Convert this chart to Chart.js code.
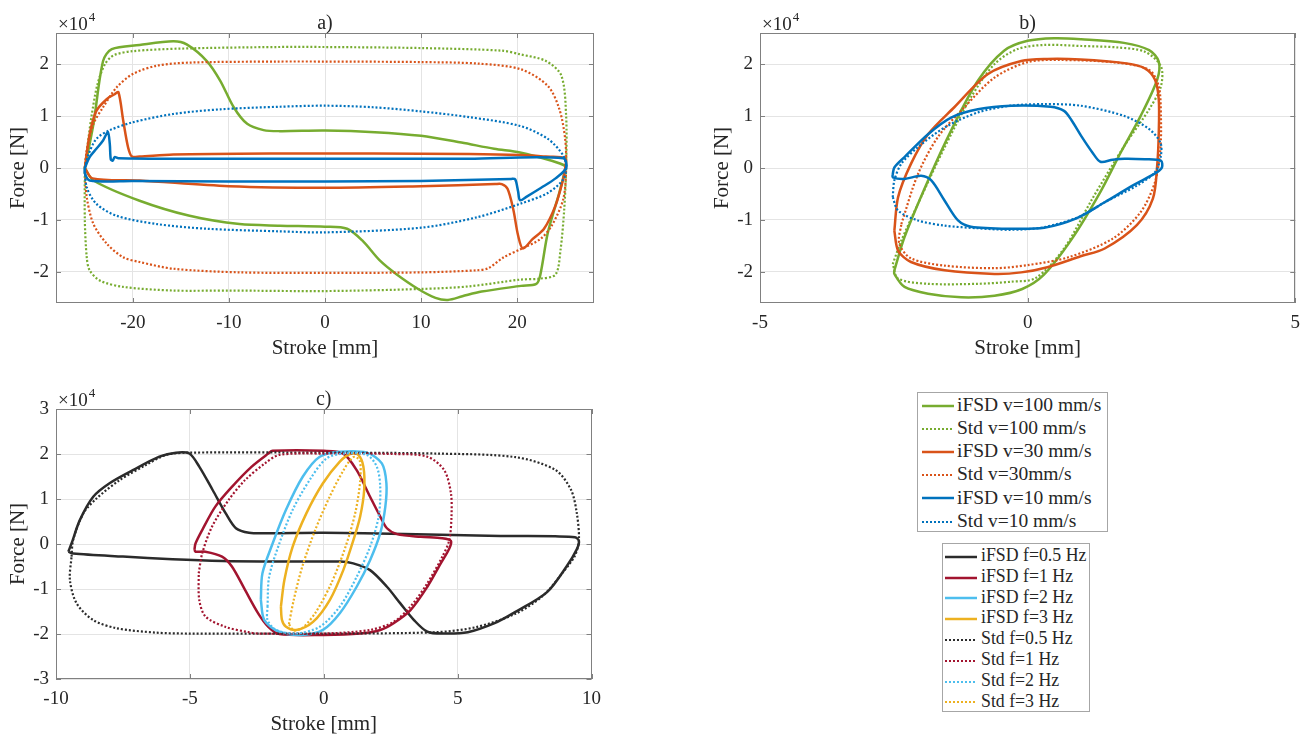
<!DOCTYPE html>
<html>
<head>
<meta charset="utf-8">
<script src="https://cdn.jsdelivr.net/npm/chart.js@4.4.1/dist/chart.umd.min.js"></script>
<style>
  body { margin: 0; background: #fff; }
  #page { position: relative; width: 1309px; height: 740px; overflow: hidden; font-family: "Liberation Serif", "Times New Roman", serif; color: #262626; }
  canvas { position: absolute; }
  .legend { position: absolute; background: #fff; border: 1px solid #a6a6a6; box-sizing: border-box; }
  .row { position: absolute; left: 0; right: 0; white-space: nowrap; }
  .row svg { position: absolute; }
  .row span { position: absolute; line-height: 1; }
</style>
</head>
<body>
<div id="page">
  <canvas id="chartA" width="610" height="365" style="left:0;top:0"></canvas>
  <canvas id="chartB" width="605" height="365" style="left:704px;top:0"></canvas>
  <canvas id="chartC" width="610" height="365" style="left:0;top:376px"></canvas>
  <div id="legendV" class="legend" style="left:917px;top:392px;width:191px;height:140px"></div>
  <div id="legendF" class="legend" style="left:942px;top:543px;width:148px;height:169px"></div>
</div>
<script>
// Force in units of 1e4 N, stroke in mm

// a) velocity tests, stroke +/-25 mm
const strokeA_iFSD100 = [-25, -24.1, -23.1, -22.2, -19.3, -15.8, -14.4, -12.3, -10.9, -9.5, -8.1, -6.4, -4.7, 0, 5.2, 10, 14.2, 17.6, 20.3, 23.6, 25, 25, 24.4, 23.2, 22.4, 22.0, 20.4, 16.3, 14.3, 12.8, 11.5, 9.7, 7.4, 5.7, 3.9, 2.3, 0, -4.7, -8.9, -14.1, -19.3, -24.1, -25];
const forceA_iFSD100 = [0, 0.85, 2.06, 2.29, 2.37, 2.44, 2.38, 2.06, 1.68, 1.17, 0.85, 0.73, 0.71, 0.72, 0.69, 0.62, 0.49, 0.37, 0.30, 0.14, 0.04, -0.02, -0.47, -1.24, -2.07, -2.23, -2.27, -2.38, -2.47, -2.54, -2.50, -2.33, -2.04, -1.78, -1.40, -1.17, -1.13, -1.11, -1.08, -0.92, -0.63, -0.24, 0];
const strokeA_Std100 = [-25, -24.6, -24.3, -23.7, -22.9, -22.0, -20, -15, -5, 0, 10, 18.4, 20.3, 23.0, 24.6, 25.1, 25.1, 24.9, 24.5, 24.0, 22.4, 20.3, 15, 10, 0, -10, -15.8, -21, -23.4, -24.5, -24.8, -25, -25];
const forceA_Std100 = [0, 0.6, 1.0, 1.6, 2.0, 2.17, 2.25, 2.30, 2.33, 2.33, 2.31, 2.26, 2.19, 2.06, 1.78, 1.0, 0.04, -0.8, -1.6, -2.05, -2.13, -2.15, -2.28, -2.33, -2.37, -2.36, -2.36, -2.29, -2.17, -1.97, -1.72, -1.0, 0];
const strokeA_iFSD30 = [-25, -24.5, -23.8, -22.7, -21.9, -21.5, -21.0, -20.5, -20.1, -19.3, -15.8, -5, 5, 15, 20.3, 23, 25, 25, 24.8, 24.0, 22.8, 21.6, 20.6, 20.1, 19.6, 19.0, 18.4, 17.7, 10, 0, -10, -19.3, -24.2, -25];
const forceA_iFSD30 = [0, 0.65, 1.10, 1.33, 1.42, 1.46, 0.91, 0.40, 0.22, 0.22, 0.26, 0.28, 0.28, 0.27, 0.25, 0.22, 0.19, 0, -0.21, -0.72, -1.17, -1.37, -1.55, -1.30, -0.80, -0.40, -0.31, -0.31, -0.35, -0.38, -0.35, -0.24, -0.2, 0];
const strokeA_Std30 = [-25, -24.8, -24.1, -23.1, -21.7, -20, -17.5, -14.1, -5, 0, 10, 16, 20.4, 23.2, 24.4, 25, 25.1, 24.8, 23.6, 22.4, 20.4, 18.6, 17, 15.8, 10, 0, -8.9, -15.8, -19.3, -21, -22.7, -24.1, -24.8, -25];
const forceA_Std30 = [0, 0.33, 0.85, 1.17, 1.55, 1.81, 1.97, 2.03, 2.05, 2.05, 2.04, 2.01, 1.90, 1.58, 1.13, 0.56, 0, -0.6, -1.11, -1.37, -1.56, -1.72, -1.93, -1.97, -2.01, -2.02, -2.01, -1.94, -1.81, -1.72, -1.46, -1.08, -0.56, 0];
const strokeA_iFSD10 = [-25, -24.5, -23.8, -23.1, -22.6, -22.4, -22.3, -22.1, -21.9, -21.5, -15, 0, 15, 24.8, 25.1, 24.0, 22.5, 21.0, 20.3, 20.1, 19.8, 19.4, 10, 0, -10, -20, -24.5, -25, -25];
const forceA_iFSD10 = [0, 0.21, 0.37, 0.53, 0.69, 0.46, 0.17, 0.14, 0.21, 0.19, 0.18, 0.18, 0.18, 0.19, 0, -0.2, -0.38, -0.55, -0.62, -0.45, -0.22, -0.21, -0.25, -0.26, -0.26, -0.25, -0.24, -0.1, 0];
const strokeA_Std10 = [-25, -24.6, -23.8, -22.5, -20, -15.8, -10.9, -4.7, 0, 5, 10, 15, 20.3, 23.2, 24.8, 25.1, 24.8, 23.2, 20.3, 15.8, 10, 0, -4.7, -12.3, -17.5, -21.7, -23.8, -24.8, -25];
const forceA_Std10 = [0, 0.27, 0.56, 0.72, 0.88, 1.04, 1.13, 1.18, 1.2, 1.17, 1.09, 0.98, 0.81, 0.56, 0.24, 0, -0.22, -0.48, -0.69, -0.95, -1.15, -1.24, -1.22, -1.17, -1.08, -0.92, -0.69, -0.37, 0];

// b) velocity tests, stroke +/-2.5 mm
const strokeB_iFSD100 = [-2.49, -2.30, -1.86, -1.43, -0.93, -0.44, 0, 0.5, 1.0, 1.8, 2.27, 2.45, 2.42, 2.11, 1.74, 1.36, 0.83, 0.3, -0.1, -0.62, -1.24, -1.86, -2.30, -2.49, -2.49];
const forceB_iFSD100 = [-1.97, -1.33, -0.24, 0.72, 1.68, 2.26, 2.45, 2.50, 2.48, 2.41, 2.27, 2.05, 1.70, 1.0, 0.3, -0.46, -1.36, -2.06, -2.33, -2.46, -2.49, -2.42, -2.29, -2.04, -1.97];
const strokeB_Std100 = [-2.52, -2.36, -1.99, -1.55, -1.06, -0.62, -0.19, 0.31, 1.0, 1.7, 2.19, 2.49, 2.49, 2.27, 1.81, 1.21, 0.68, 0.15, -0.31, -0.93, -1.86, -2.42, -2.52];
const forceB_Std100 = [-1.85, -1.40, -0.56, 0.40, 1.36, 2.0, 2.29, 2.37, 2.35, 2.32, 2.24, 1.96, 1.57, 1.13, 0.43, -0.59, -1.55, -2.12, -2.19, -2.23, -2.23, -2.13, -1.85];
const strokeB_iFSD30 = [-2.49, -2.42, -2.18, -1.86, -1.37, -0.74, -0.12, 0.37, 0.99, 1.81, 2.19, 2.38, 2.45, 2.45, 2.42, 2.34, 2.04, 1.44, 0.99, 0.37, -0.12, -0.62, -1.55, -2.18, -2.42, -2.49];
const forceB_iFSD30 = [-1.21, -0.56, 0.08, 0.65, 1.17, 1.81, 2.06, 2.10, 2.09, 2.02, 1.92, 1.70, 1.32, 0.68, 0.04, -0.59, -1.10, -1.55, -1.70, -1.91, -2.01, -2.04, -1.97, -1.81, -1.59, -1.21];
const strokeB_Std30 = [-2.36, -2.05, -1.68, -1.18, -0.62, 0, 0.62, 1.66, 2.27, 2.45, 2.49, 2.48, 2.38, 2.11, 1.59, 0.76, 0, -0.62, -1.55, -2.18, -2.40, -2.36];
const forceB_Std30 = [-1.08, -0.12, 0.59, 1.17, 1.74, 2.04, 2.08, 2.03, 1.89, 1.57, 1.0, 0.36, -0.27, -0.85, -1.36, -1.72, -1.87, -1.93, -1.88, -1.74, -1.45, -1.08];
const strokeB_iFSD10 = [-2.52, -2.49, -2.30, -1.86, -1.43, -0.93, -0.31, 0.43, 0.68, 0.82, 1.0, 1.21, 1.36, 1.59, 1.81, 2.19, 2.49, 2.51, 2.42, 1.96, 1.44, 0.91, 0.31, -0.31, -1.06, -1.30, -1.55, -1.80, -1.99, -2.30, -2.52, -2.52];
const forceB_iFSD10 = [-0.12, 0.01, 0.21, 0.65, 0.97, 1.13, 1.20, 1.18, 1.1, 0.92, 0.62, 0.3, 0.12, 0.16, 0.18, 0.17, 0.14, 0.01, -0.08, -0.34, -0.66, -0.97, -1.15, -1.17, -1.13, -1.01, -0.63, -0.24, -0.15, -0.21, -0.18, -0.12];
const strokeB_Std10 = [-2.52, -2.49, -2.36, -2.05, -1.55, -0.93, -0.31, 0.31, 0.99, 1.81, 2.27, 2.48, 2.49, 2.38, 2.04, 1.44, 0.99, 0.31, -0.31, -0.93, -1.55, -2.05, -2.42, -2.52];
const forceB_Std10 = [-0.56, -0.24, 0.08, 0.40, 0.78, 1.07, 1.20, 1.23, 1.20, 1.0, 0.75, 0.49, 0.24, -0.08, -0.34, -0.66, -0.93, -1.14, -1.19, -1.16, -1.11, -1.01, -0.82, -0.56];

// c) frequency tests
const strokeC_iFSD05 = [-9.54, -9.42, -9.11, -8.61, -8.0, -7.13, -6.14, -5.52, -5.02, -4.65, -4.15, -3.66, -3.28, -2.79, -2.04, 0, 3, 6.6, 8.64, 9.38, 9.53, 9.45, 9.08, 8.34, 7.16, 6.38, 5.38, 4.5, 3.87, 3.37, 2.86, 2.36, 1.73, 1.1, 0.6, -2.04, -3.78, -5.65, -7.5, -9.36, -9.54];
const forceC_iFSD05 = [-0.17, 0.01, 0.53, 1.05, 1.35, 1.64, 1.94, 2.03, 2.01, 1.72, 1.2, 0.68, 0.35, 0.25, 0.24, 0.25, 0.22, 0.18, 0.17, 0.15, 0.07, -0.12, -0.49, -1.07, -1.51, -1.76, -1.96, -1.99, -1.95, -1.69, -1.32, -0.95, -0.58, -0.43, -0.39, -0.39, -0.38, -0.34, -0.28, -0.21, -0.17];
const strokeC_iFSD1 = [-4.83, -4.79, -4.54, -4.05, -3.43, -2.69, -2.07, -1.91, 0, 0.73, 1.23, 1.73, 2.11, 2.36, 2.74, 3.62, 4.43, 4.75, 4.69, 4.37, 3.87, 3.24, 2.61, 2.11, 1.36, 0, -1.66, -2.07, -2.45, -2.94, -3.43, -3.8, -4.42, -4.79, -4.83];
const forceC_iFSD1 = [-0.13, 0.01, 0.31, 0.83, 1.27, 1.72, 2.01, 2.07, 2.07, 2.01, 1.64, 1.05, 0.61, 0.35, 0.22, 0.16, 0.13, 0.07, -0.1, -0.43, -0.95, -1.47, -1.76, -1.91, -1.99, -2.02, -2.0, -1.84, -1.54, -1.02, -0.5, -0.28, -0.17, -0.17, -0.13];
const strokeC_iFSD2 = [-2.35, -2.29, -1.91, -1.41, -0.78, -0.15, 0.6, 1.61, 2.17, 2.34, 2.3, 2.11, 1.73, 1.23, 0.6, -0.03, -0.78, -1.66, -2.22, -2.35];
const forceC_iFSD2 = [-1.24, -0.65, 0.01, 0.76, 1.5, 1.94, 2.05, 2.03, 1.79, 1.35, 0.83, 0.24, -0.36, -0.95, -1.54, -1.91, -2.02, -1.95, -1.69, -1.24];
const strokeC_iFSD3 = [-1.6, -1.47, -1.16, -0.65, -0.03, 0.6, 0.98, 1.29, 1.48, 1.51, 1.36, 1.11, 0.73, 0.23, -0.4, -1.03, -1.41, -1.56, -1.6];
const forceC_iFSD3 = [-1.39, -0.8, -0.06, 0.68, 1.35, 1.83, 2.0, 1.98, 1.72, 1.2, 0.61, 0.09, -0.58, -1.24, -1.73, -1.91, -1.84, -1.69, -1.39];
const strokeC_Std05 = [-9.42, -9.36, -8.98, -8.49, -7.62, -6.63, -5.89, -5.02, 0, 4.19, 7.16, 8.64, 9.23, 9.45, 9.53, 9.38, 8.93, 8.19, 7.16, 5.67, 4.19, 0, -5.02, -6.26, -7.75, -8.61, -9.23, -9.48, -9.42];
const forceC_Std05 = [-0.28, 0.09, 0.68, 1.01, 1.42, 1.76, 1.98, 2.03, 2.03, 2.01, 1.93, 1.65, 1.21, 0.69, 0.10, -0.26, -0.63, -1.15, -1.55, -1.85, -1.96, -1.99, -1.99, -1.97, -1.87, -1.69, -1.32, -0.8, -0.28];
const strokeC_Std1 = [-4.67, -4.54, -4.17, -3.55, -2.94, -2.2, -1.66, 0, 2.61, 3.87, 4.5, 4.75, 4.77, 4.69, 4.43, 3.87, 3.24, 2.61, 1.73, 0, -2.41, -2.81, -3.68, -4.42, -4.65, -4.67];
const forceC_Std1 = [-0.65, -0.21, 0.39, 0.98, 1.42, 1.79, 1.98, 2.01, 2.0, 1.94, 1.64, 1.13, 0.61, 0.09, -0.28, -0.87, -1.39, -1.73, -1.91, -1.99, -1.99, -1.96, -1.84, -1.61, -1.24, -0.65];
const strokeC_Std2 = [-2.1, -2.04, -1.66, -1.16, -0.53, 0.1, 0.73, 1.61, 1.98, 2.11, 2.05, 1.73, 1.23, 0.6, -0.15, -1.03, -1.78, -2.1, -2.1];
const forceC_Std2 = [-1.39, -0.73, 0.01, 0.76, 1.42, 1.9, 2.01, 1.98, 1.72, 1.27, 0.61, -0.06, -0.73, -1.39, -1.84, -1.99, -1.91, -1.69, -1.39];
const strokeC_Std3 = [-1.3, -1.12, -0.8, -0.32, 0.22, 0.72, 1.1, 1.34, 1.36, 1.18, 0.82, 0.3, -0.28, -0.78, -1.12, -1.3];
const forceC_Std3 = [-1.78, -1.24, -0.5, 0.31, 1.05, 1.62, 1.93, 1.86, 1.4, 0.7, -0.05, -0.85, -1.5, -1.86, -1.92, -1.78];

// tick labels
const ticksA_x = [-20, -10, 0, 10, 20];
const ticksB_x = [-5, 0, 5];
const ticksC_x = [-10, -5, 0, 5, 10];
const ticksAB_y = [-2, -1, 0, 1, 2];
const ticksC_y = [-3, -2, -1, 0, 1, 2, 3];

// legend entries
const labelsV = ['iFSD v=100 mm/s', 'Std v=100 mm/s', 'iFSD v=30 mm/s', 'Std v=30mm/s', 'iFSD v=10 mm/s', 'Std v=10 mm/s'];
const labelsF = ['iFSD f=0.5 Hz', 'iFSD f=1 Hz', 'iFSD f=2 Hz', 'iFSD f=3 Hz', 'Std f=0.5 Hz', 'Std f=1 Hz', 'Std f=2 Hz', 'Std f=3 Hz'];

const GREEN = '#77AC30', ORANGE = '#D95319', BLUE = '#0072BD';
const BLACK = '#2b2b2b', CRIMSON = '#A2142F', SKY = '#4DBEEE', GOLD = '#EDB120';
const colorsV = [GREEN, GREEN, ORANGE, ORANGE, BLUE, BLUE];
const dottedV = [false, true, false, true, false, true];
const colorsF = [BLACK, CRIMSON, SKY, GOLD, BLACK, CRIMSON, SKY, GOLD];
const dottedF = [false, false, false, false, true, true, true, true];

const FONT = '"Liberation Serif", "Times New Roman", serif';
const TEXT = '#262626';
Chart.defaults.font.family = FONT;
Chart.defaults.color = TEXT;

function curve(label, xs, ys, color, dotted, i, n) {
  return {
    label: label,
    data: xs.map((x, k) => ({ x: x, y: ys[k] })),
    showLine: true,
    borderColor: color,
    backgroundColor: color,
    borderWidth: dotted ? 2.2 : 2.5,
    borderDash: dotted ? [2, 2] : [],
    pointRadius: 0,
    tension: 0.3,
    fill: false,
    order: n - i  // later curves on top
  };
}

// box, inner tick marks, panel letter and the x10^4 multiplier
const framePlugin = {
  id: 'frame',
  afterDraw(chart, args, opts) {
    const { ctx, chartArea: a, scales } = chart;
    ctx.save();
    ctx.strokeStyle = '#808080';
    ctx.lineWidth = 1;
    ctx.beginPath();
    scales.x.ticks.forEach(t => {
      const px = Math.round(scales.x.getPixelForValue(t.value)) + 0.5;
      ctx.moveTo(px, a.bottom); ctx.lineTo(px, a.bottom - 5);
      ctx.moveTo(px, a.top); ctx.lineTo(px, a.top + 5);
    });
    scales.y.ticks.forEach(t => {
      const py = Math.round(scales.y.getPixelForValue(t.value)) + 0.5;
      ctx.moveTo(a.left, py); ctx.lineTo(a.left + 5, py);
      ctx.moveTo(a.right, py); ctx.lineTo(a.right - 5, py);
    });
    ctx.stroke();
    ctx.strokeRect(Math.round(a.left) + 0.5, Math.round(a.top) + 0.5, Math.round(a.width) - 1, Math.round(a.height) - 1);

    ctx.fillStyle = TEXT;
    ctx.textBaseline = 'alphabetic';
    ctx.textAlign = 'center';
    ctx.font = '20px ' + FONT;
    ctx.fillText(opts.title, (a.left + a.right) / 2, a.top - 4);

    ctx.textAlign = 'left';
    ctx.font = '19px ' + FONT;
    const mult = '\u00d710';
    ctx.fillText(mult, a.left + 2, a.top - 3);
    const w = ctx.measureText(mult).width;
    ctx.font = '13px ' + FONT;
    ctx.fillText('4', a.left + 2 + w + 1, a.top - 12);
    ctx.restore();
  }
};

function makeChart(id, datasets, xMin, xMax, xTicks, yMin, yMax, yTicks, title, padRight) {
  const canvas = document.getElementById(id);
  return new Chart(canvas.getContext('2d'), {
    type: 'scatter',
    data: { datasets: datasets },
    options: {
      responsive: false,
      animation: false,
      devicePixelRatio: 1,
      layout: { padding: { left: 0, top: 33, right: padRight, bottom: 0 } },
      plugins: {
        legend: { display: false },
        tooltip: { enabled: false },
        frame: { title: title }
      },
      scales: {
        x: {
          type: 'linear',
          min: xMin,
          max: xMax,
          afterBuildTicks: s => { s.ticks = xTicks.map(v => ({ value: v })); },
          afterFit: s => { s.height = canvas.height - 303; },
          grid: { color: '#e4e4e4', drawTicks: false },
          border: { display: false },
          ticks: { padding: 9, font: { family: FONT, size: 19 }, color: TEXT },
          title: { display: true, text: 'Stroke [mm]', font: { family: FONT, size: 21 }, color: TEXT, padding: { top: 0, bottom: 4 } }
        },
        y: {
          type: 'linear',
          min: yMin,
          max: yMax,
          afterBuildTicks: s => { s.ticks = yTicks.map(v => ({ value: v })); },
          afterFit: s => { s.width = 56; },
          grid: { color: '#e4e4e4', drawTicks: false },
          border: { display: false },
          ticks: { padding: 7, font: { family: FONT, size: 19 }, color: TEXT },
          title: { display: true, text: 'Force [N]', font: { family: FONT, size: 21 }, color: TEXT, padding: { top: 6, bottom: 0 } }
        }
      }
    },
    plugins: [framePlugin]
  });
}

const seriesA = [
  [strokeA_iFSD100, forceA_iFSD100], [strokeA_Std100, forceA_Std100],
  [strokeA_iFSD30, forceA_iFSD30], [strokeA_Std30, forceA_Std30],
  [strokeA_iFSD10, forceA_iFSD10], [strokeA_Std10, forceA_Std10]
];
const seriesB = [
  [strokeB_iFSD100, forceB_iFSD100], [strokeB_Std100, forceB_Std100],
  [strokeB_iFSD30, forceB_iFSD30], [strokeB_Std30, forceB_Std30],
  [strokeB_iFSD10, forceB_iFSD10], [strokeB_Std10, forceB_Std10]
];
const seriesC = [
  [strokeC_iFSD05, forceC_iFSD05], [strokeC_iFSD1, forceC_iFSD1],
  [strokeC_iFSD2, forceC_iFSD2], [strokeC_iFSD3, forceC_iFSD3],
  [strokeC_Std05, forceC_Std05], [strokeC_Std1, forceC_Std1],
  [strokeC_Std2, forceC_Std2], [strokeC_Std3, forceC_Std3]
];

const dsA = seriesA.map((s, i) => curve(labelsV[i], s[0], s[1], colorsV[i], dottedV[i], i, seriesA.length));
const dsB = seriesB.map((s, i) => curve(labelsV[i], s[0], s[1], colorsV[i], dottedV[i], i, seriesB.length));
const dsC = seriesC.map((s, i) => curve(labelsF[i], s[0], s[1], colorsF[i], dottedF[i], i, seriesC.length));

makeChart('chartA', dsA, -28, 28, ticksA_x, -2.6, 2.6, ticksAB_y, 'a)', 16);
makeChart('chartB', dsB, -5, 5, ticksB_x, -2.6, 2.6, ticksAB_y, 'b)', 12);
makeChart('chartC', dsC, -10, 10, ticksC_x, -3, 3, ticksC_y, 'c)', 16);

// HTML legends with line samples
function buildLegend(id, labels, colors, dotted, opt) {
  const box = document.getElementById(id);
  labels.forEach((text, i) => {
    const row = document.createElement('div');
    row.className = 'row';
    row.style.top = (opt.top + i * opt.step) + 'px';
    row.style.height = opt.step + 'px';
    const dash = dotted[i] ? ' stroke-dasharray="2 2"' : '';
    const sw = dotted[i] ? 2 : 2.5;
    row.innerHTML =
      '<svg width="' + opt.lineLen + '" height="8" style="left:' + opt.lineLeft + 'px;top:' + (opt.step / 2 - 4) + 'px">' +
      '<line x1="0" y1="4" x2="' + opt.lineLen + '" y2="4" stroke="' + colors[i] + '" stroke-width="' + sw + '"' + dash + '/></svg>' +
      '<span style="left:' + opt.textLeft + 'px;top:' + (opt.step / 2 - opt.size / 2 - 1) + 'px;font-size:' + opt.size + 'px"></span>';
    row.querySelector('span').textContent = text;
    box.appendChild(row);
  });
}

buildLegend('legendV', labelsV, colorsV, dottedV, { top: 1, step: 23.2, lineLeft: 4, lineLen: 32, textLeft: 39, size: 19.5 });
buildLegend('legendF', labelsF, colorsF, dottedF, { top: 2.5, step: 20.8, lineLeft: 2, lineLen: 32, textLeft: 38, size: 17.8 });
</script>
</body>
</html>
